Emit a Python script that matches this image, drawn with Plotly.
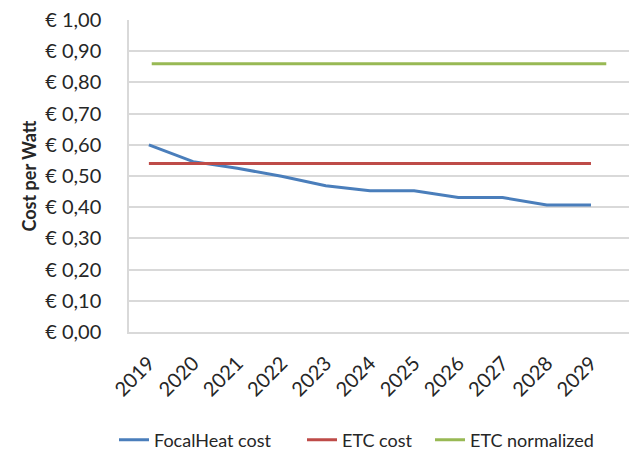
import plotly.graph_objects as go

# Cost per watt, 2019-2029
years = ["2019", "2020", "2021", "2022", "2023", "2024", "2025", "2026", "2027", "2028", "2029"]
focalheat_cost = [0.60, 0.546, 0.525, 0.499, 0.469, 0.453, 0.453, 0.431, 0.431, 0.407, 0.407]
etc_cost = [0.54] * 11
etc_normalized = [0.86] * 11

y_tick_values = [0.0, 0.1, 0.2, 0.3, 0.4, 0.5, 0.6, 0.7, 0.8, 0.9, 1.0]
y_tick_labels = ["€ 0,00", "€ 0,10", "€ 0,20", "€ 0,30", "€ 0,40", "€ 0,50",
                 "€ 0,60", "€ 0,70", "€ 0,80", "€ 0,90", "€ 1,00"]

FONT = "Lato, 'Open Sans', sans-serif"
TEXT = "#262626"

fig = go.Figure()
fig.add_trace(go.Scatter(x=years, y=focalheat_cost, mode="lines", name="FocalHeat cost",
                         line=dict(color="#4a7ebb", width=3), legend="legend"))
fig.add_trace(go.Scatter(x=years, y=etc_cost, mode="lines", name="ETC cost",
                         line=dict(color="#be4b48", width=3), legend="legend2"))
fig.add_trace(go.Scatter(x=years, y=etc_normalized, mode="lines", name="ETC normalized",
                         line=dict(color="#98b954", width=3), xaxis="x2", legend="legend3"))

legend_style = dict(orientation="h", xanchor="left", y=-0.346, yanchor="middle",
                    font=dict(size=18, color=TEXT), bgcolor="rgba(0,0,0,0)")

fig.update_layout(
    width=636, height=452,
    margin=dict(l=129, r=7, t=20, b=120, autoexpand=False),
    paper_bgcolor="white", plot_bgcolor="white",
    font=dict(family=FONT, color=TEXT),
    showlegend=True,
    legend=dict(x=(114 - 129) / 500, **legend_style),
    legend2=dict(x=(302 - 129) / 500, **legend_style),
    legend3=dict(x=(430 - 129) / 500, **legend_style),
    xaxis=dict(type="category", range=[-0.45, 10.86], tickangle=-45,
               tickfont=dict(size=20, color=TEXT), showgrid=False,
               showline=True, linecolor="#d9d9d9", linewidth=1.5,
               ticks="", ticklabelstandoff=10, automargin=False, fixedrange=True),
    xaxis2=dict(type="category", range=[-0.5, 10.5], overlaying="x", visible=False),
    yaxis=dict(range=[0, 1.0], tickvals=y_tick_values, ticktext=y_tick_labels,
               tickfont=dict(size=20, color=TEXT), showgrid=True, gridcolor="#d9d9d9",
               gridwidth=1.5, showline=True, linecolor="#d9d9d9", linewidth=1.5,
               zeroline=False, ticks="", ticklabelstandoff=22, automargin=False,
               title=dict(text="<b>Cost per Watt</b>", font=dict(size=18, color=TEXT),
                          standoff=4)),
)

fig.write_html("out.html")
